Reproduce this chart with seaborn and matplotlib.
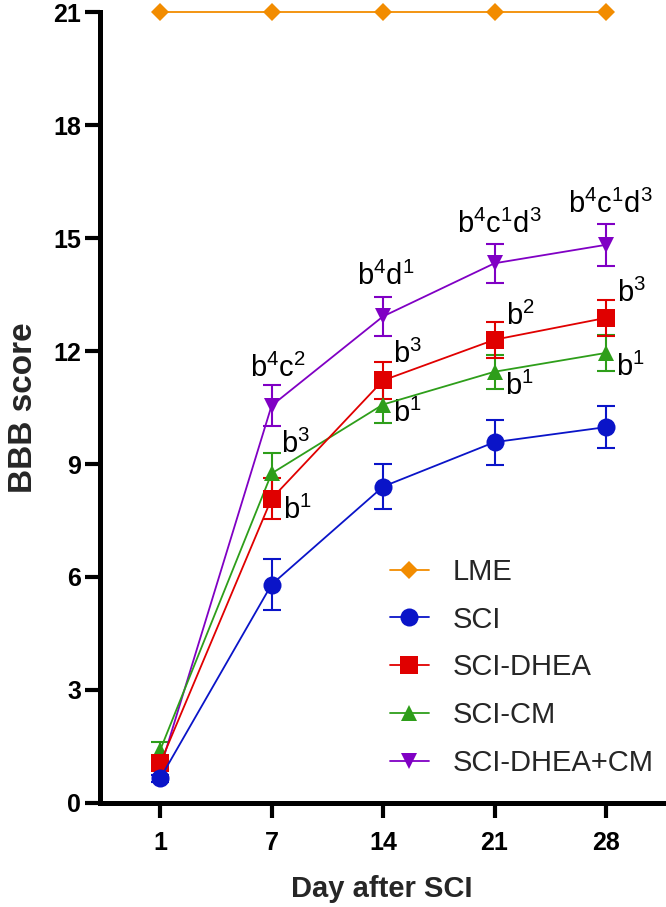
import numpy as np
import pandas as pd
import matplotlib
matplotlib.use("Agg")
import matplotlib.pyplot as plt
import seaborn as sns

days = ["1", "7", "14", "21", "28"]

lme = [21, 21, 21, 21, 21]
lme_err = [0, 0, 0, 0, 0]
sci = [0.65, 5.8, 8.4, 9.58, 9.98]
sci_err = [0.1, 0.68, 0.6, 0.6, 0.55]
sci_dhea = [1.05, 8.08, 11.22, 12.3, 12.88]
sci_dhea_err = [0.15, 0.55, 0.5, 0.48, 0.48]
sci_cm = [1.4, 8.75, 10.58, 11.45, 11.95]
sci_cm_err = [0.22, 0.55, 0.48, 0.45, 0.48]
sci_dhea_cm = [0.9, 10.55, 12.92, 14.33, 14.82]
sci_dhea_cm_err = [0.15, 0.55, 0.52, 0.52, 0.55]

# significance letters: (text, x position, y baseline, alignment)
annot_text = [r"b$^{4}$c$^{2}$", r"b$^{3}$", r"b$^{1}$",
              r"b$^{4}$d$^{1}$", r"b$^{3}$", r"b$^{1}$",
              r"b$^{4}$c$^{1}$d$^{3}$", r"b$^{2}$", r"b$^{1}$",
              r"b$^{4}$c$^{1}$d$^{3}$", r"b$^{3}$", r"b$^{1}$"]
annot_x = [1.06, 1.085, 1.10, 2.02, 2.09, 2.09, 3.04, 3.10, 3.09, 4.04, 4.10, 4.09]
annot_y = [11.31, 9.29, 7.54, 13.75, 11.68, 10.11, 15.13, 12.69, 10.83, 15.66, 13.3, 11.33]
annot_ha = ["center", "left", "left", "center", "left", "left",
            "center", "left", "left", "center", "left", "left"]

sns.set_theme(style="ticks")
plt.rcParams["font.family"] = ["Liberation Sans", "DejaVu Sans"]
plt.rcParams["mathtext.fontset"] = "custom"
plt.rcParams["mathtext.rm"] = "Liberation Sans"
plt.rcParams["mathtext.it"] = "Liberation Sans"
plt.rcParams["mathtext.bf"] = "Liberation Sans:bold"

groups = [
    ("LME", lme, lme_err, "#F28C00", "D", 9.5),
    ("SCI", sci, sci_err, "#0A14C8", "o", 13),
    ("SCI-DHEA", sci_dhea, sci_dhea_err, "#E00000", "s", 13.5),
    ("SCI-CM", sci_cm, sci_cm_err, "#2E9E1A", "^", 11.5),
    ("SCI-DHEA+CM", sci_dhea_cm, sci_dhea_cm_err, "#8000C4", "v", 12),
]

pos = np.arange(len(days))

fig = plt.figure(figsize=(6.66, 9.07), dpi=100)
ax = fig.add_axes([0.150, 0.1147, 0.847, 0.872])

draw_order = [0, 4, 3, 2, 1]
for z, gi in enumerate(draw_order):
    name, vals, err, col, mk, ms = groups[gi]
    df = pd.DataFrame({"pos": pos, "score": vals})
    if gi != 0:
        ax.errorbar(pos, vals, yerr=err, fmt="none", ecolor=col, elinewidth=1.5,
                    capsize=6.5, capthick=1.5, zorder=2 + z * 0.1)
    sns.lineplot(data=df, x="pos", y="score", color=col, marker=mk, markersize=ms,
                 markeredgewidth=0, linewidth=1.3, ax=ax, label=name, clip_on=False,
                 zorder=3 + z * 0.1)

h, l = ax.get_legend_handles_labels()
lut = dict(zip(l, h))
order = [g[0] for g in groups]
ax.legend([lut[n] for n in order], order, loc="upper left",
          bbox_to_anchor=(0.514, 0.31), frameon=False, fontsize=21,
          handlelength=1.34, handletextpad=0.8, labelspacing=0.68,
          borderpad=0, borderaxespad=0)

for t, x, y, ha in zip(annot_text, annot_x, annot_y, annot_ha):
    ax.text(x, y, t, ha=ha, va="baseline", fontsize=21, color="black")

ax.set_xlim(-0.54, 4.52)
ax.set_ylim(0, 21)
ax.set_xticks(pos)
ax.set_xticklabels(days)
ax.set_yticks([0, 3, 6, 9, 12, 15, 18, 21])
ax.tick_params(axis="both", direction="out", length=10.5, width=3, labelsize=18, colors="black")
ax.tick_params(axis="x", pad=10)
ax.tick_params(axis="y", pad=3)
for lab in ax.get_xticklabels() + ax.get_yticklabels():
    lab.set_fontweight("bold")
for s in ["left", "bottom"]:
    ax.spines[s].set_linewidth(3.6)
    ax.spines[s].set_color("black")
for s in ["top", "right"]:
    ax.spines[s].set_visible(False)

ax.set_xlabel("Day after SCI", fontsize=21, fontweight="bold", labelpad=14)
ax.set_ylabel("BBB score", fontsize=24, fontweight="bold", labelpad=10)

fig.savefig("out.png", dpi=100)
